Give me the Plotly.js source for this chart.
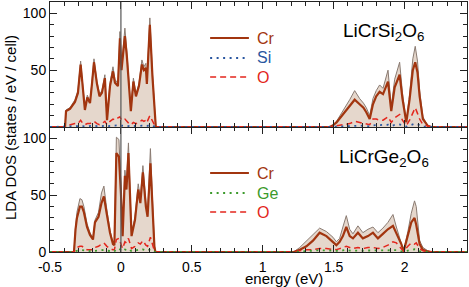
<!DOCTYPE html>
<html><head><meta charset="utf-8">
<script src="https://cdn.plot.ly/plotly-3.0.1.min.js"></script>
<style>html,body{margin:0;padding:0;background:#fff}#chart{width:469px;height:287px}</style>
</head><body><div id="chart"></div>
<script>
// ---- top panel: LiCrSi2O6 ----
const topEnergy = [-0.5,
 -0.394,-0.387,-0.359,-0.324,-0.303,-0.284,-0.268,-0.254,-0.237,-0.218,
 -0.204,-0.190,-0.169,-0.151,-0.134,-0.113,-0.098,-0.077,-0.056,-0.042,
 -0.021,-0.007,0.004,0.028,0.042,0.056,0.070,0.088,0.106,0.127,
 0.148,0.162,0.176,0.183,0.204,0.222,0.236,0.246,
 1.47,1.49,1.52,1.566,1.613,1.648,1.683,1.710,1.730,1.754,
 1.777,1.800,1.824,1.848,1.883,1.906,1.930,1.965,1.985,2.012,
 2.035,2.058,2.075,2.091,2.106,2.129,2.164,2.19,
 2.45];
const topTotal = [0,
 0,15,17,24,32,58,32,16,28,22, 40,60,40,29,32,46,7,39,53,42,
 38,84,53,87,66,42,15,43,29,38, 59,53,56,40,96,48,24,0,
 0,1,5,14,24,32,25,21,17,10, 25,32,37,34,50,18,42,57,30,5,
 28,60,71,58,32,9,1,0,
 0];
const topCr = [0,
 0,14,16,22,30,55,30,15,26,21, 38,57,38,27,30,43,6,36,49,39,
 36,78,50,80,62,40,14,40,27,36, 55,50,52,38,90,45,22,0,
 0,1,4,11,19,24,20,17,13,7, 20,27,31,29,40,14,35,46,25,4,
 24,50,57,48,27,7,1,0,
 0];
const topO = [0,
 0,1,2,3,3,6,3,2,3,3, 4,5,3,2,3,5,2,5,7,6,
 8,9,6,7,5,3,2,4,3,4, 6,5,6,4,10,5,2,0,
 0,0.3,1,2,3,5,4,3,3,2, 7,7,6,6,9,4,8,11,6,1,
 6,13,17,12,7,2,0.5,0,
 0];
const topSi = [0,
 0,0.5,0.6,0.8,0.8,1.2,0.8,0.5,0.8,0.7, 1,1.2,0.8,0.6,0.8,1.1,0.4,1,1.3,1.1,
 1.2,1.6,1.1,1.5,1.2,0.8,0.4,0.9,0.7,0.9, 1.2,1.1,1.2,0.9,1.8,1,0.5,0,
 0,0.1,0.3,0.6,1,1.4,1.2,1,0.9,0.6, 1.5,1.6,1.5,1.4,2,0.9,1.8,2.2,1.3,0.3,
 1.4,2.5,3,2.3,1.4,0.4,0.1,0,
 0];

// ---- bottom panel: LiCrGe2O6 ----
const botEnergy = [-0.5,
 -0.331,-0.320,-0.310,-0.289,-0.275,-0.261,-0.239,-0.218,-0.197,-0.183,
 -0.158,-0.137,-0.120,-0.099,-0.077,-0.056,-0.046,-0.032,-0.014,0.0,
 0.012,0.028,0.039,0.053,0.075,0.099,0.122,0.137,0.155,0.176,
 0.188,0.208,0.225,0.236,0.243,
 1.218,1.261,1.308,1.354,1.401,1.449,1.495,1.519,1.542,1.565,
 1.589,1.613,1.636,1.671,1.706,1.742,1.777,1.812,1.847,1.882,
 1.918,1.942,1.977,1.993,2.023,2.047,2.070,2.082,2.106,2.129,
 2.164,2.19,
 2.45];
const botTotal = [0,
 0,22,35,47,46,40,25,17,12,28, 35,52,58,37,19,8,7,101,99,58,
 16,72,60,96,16,31,60,47,76,44, 34,91,33,6,0,
 0,4,10,15,21,18,13,9,12,22, 32,20,16,23,17,20,22,17,21,26,
 33,22,9,1,18,34,45,40,10,4, 1,0,
 0];
const botCr = [0,
 0,20,30,40,40,35,22,15,11,26, 31,43,49,33,17,7,6,87,84,52,
 14,67,55,87,14,28,55,43,70,40, 31,78,30,5,0,
 0,2,5,10,17,14,9,6,9,14, 22,14,12,17,12,14,17,12,16,20,
 23,17,7,0.5,14,26,30,24,7,2, 0.5,0,
 0];
const botO = [0,
 0,2,4,5,5,4,2,2,2,4, 5,7,8,5,3,2,2,11,12,7,
 3,9,8,12,3,5,8,7,10,6, 5,13,5,1,0,
 0,1,2,2,3,3,2,2,3,4, 5,4,3,4,3,4,4,3,4,6,
 9,8,3,0.5,5,8,7,8,3,1, 0.3,0,
 0];
const botGe = [0,
 0,0.8,1.2,1.6,1.6,1.4,0.8,0.6,0.5,1, 1.2,1.6,1.8,1.2,0.7,0.4,0.4,3,2.8,1.8,
 0.6,2.2,1.9,2.8,0.6,1.1,1.8,1.5,2.3,1.4, 1.1,2.6,1,0.2,0,
 0,0.5,1,1.2,1.6,1.4,1,0.8,1,1.4, 1.8,1.3,1.1,1.4,1.1,1.3,1.4,1.1,1.3,1.6,
 2,1.6,0.6,0.1,1.2,2,2.4,2.2,0.8,0.3, 0.1,0,
 0];

const xTickVals = [-0.5,0,0.5,1,1.5,2];
const xTickText = ['-0.5','0','0.5','1','1.5','2'];
const yTickTop = [50,100];
const yTickBot = [0,50,100];
const fermiEnergy = 0;
const speciesTop = ['Cr','Si','O'];
const speciesBot = ['Cr','Ge','O'];
const compoundTop = 'LiCrSi<sub>2</sub>O<sub>6</sub>';
const compoundBot = 'LiCrGe<sub>2</sub>O<sub>6</sub>';

const C_TOT_LINE = '#8a7b72', C_FILL = '#e5d7cc', C_CR = '#a2350f', C_O = '#e3261c', C_SI = '#2a56a0', C_GE = '#3c9a2c';
const FONT = 'Liberation Sans, Arial, Helvetica, sans-serif';

function panel(E, tot, cr, o, el, elColor, xa, ya) {
  return [
    {x:E, y:tot, xaxis:xa, yaxis:ya, type:'scatter', mode:'lines', fill:'tozeroy', fillcolor:C_FILL,
     line:{color:C_TOT_LINE, width:1}, showlegend:false, hoverinfo:'skip'},
    {x:E, y:cr, xaxis:xa, yaxis:ya, type:'scatter', mode:'lines', line:{color:C_CR, width:2.2}, showlegend:false},
    {x:E, y:o, xaxis:xa, yaxis:ya, type:'scatter', mode:'lines', line:{color:C_O, width:1.5, dash:'6px,4px'}, showlegend:false},
    {x:E, y:el, xaxis:xa, yaxis:ya, type:'scatter', mode:'lines', line:{color:elColor, width:1.8, dash:'2px,4.5px'}, showlegend:false}
  ];
}
const data = [].concat(
  panel(topEnergy, topTotal, topCr, topO, topSi, C_SI, 'x2', 'y2'),
  panel(botEnergy, botTotal, botCr, botO, botGe, C_GE, 'x', 'y')
);

const xBase = {range:[-0.5,2.44], showline:true, linecolor:'#222', linewidth:1, mirror:'allticks',
  ticks:'inside', ticklen:7, tickcolor:'#222', tickmode:'array', tickvals:xTickVals, ticktext:xTickText,
  minor:{tickmode:'linear', tick0:0, dtick:0.1, ticks:'inside', ticklen:4, tickcolor:'#222'},
  showgrid:false, zeroline:false,
  tickfont:{family:FONT, size:14, color:'#000'}};
const yBase = {range:[0,110], showline:true, linecolor:'#222', linewidth:1, mirror:'allticks',
  ticks:'inside', ticklen:7, tickcolor:'#222', tickmode:'array',
  minor:{tickmode:'linear', tick0:0, dtick:10, ticks:'inside', ticklen:4, tickcolor:'#222'},
  showgrid:false, zeroline:false, tickfont:{family:FONT, size:14, color:'#000'}};

const shapes = [], annotations = [];
// Fermi-level reference lines drawn above the filled areas
shapes.push({type:'line', xref:'x2', yref:'y2 domain', x0:fermiEnergy, x1:fermiEnergy, y0:0, y1:1, layer:'above', line:{color:'#555', width:1.2}});
shapes.push({type:'line', xref:'x', yref:'y domain', x0:fermiEnergy, x1:fermiEnergy, y0:0, y1:1, layer:'above', line:{color:'#555', width:1.2}});
function legendBlock(names, colors, dashes, widths, xr, yr, ys) {
  names.forEach((n,i) => {
    shapes.push({type:'line', xref:xr, yref:yr, x0:0.384, x1:0.477, y0:ys[i], y1:ys[i],
      line:{color:colors[i], width:widths[i], dash:dashes[i]}});
    annotations.push({xref:xr, yref:yr, x:0.492, y:ys[i], xanchor:'left', yanchor:'middle', showarrow:false,
      text:n, font:{family:FONT, size:16, color:colors[i]}});
  });
}
legendBlock(speciesTop, [C_CR, C_SI, C_O], ['solid','2px,4.5px','6px,4px'], [2.2,1.8,1.5], 'x2 domain', 'y2 domain', [0.712,0.552,0.4]);
legendBlock(speciesBot, [C_CR, C_GE, C_O], ['solid','2px,4.5px','6px,4px'], [2.2,1.8,1.5], 'x domain', 'y domain', [0.632,0.472,0.32]);
annotations.push({xref:'x2 domain', yref:'y2 domain', x:0.80, y:0.76, xanchor:'center', yanchor:'middle', showarrow:false,
  text:compoundTop, font:{family:FONT, size:19, color:'#000'}});
annotations.push({xref:'x domain', yref:'y domain', x:0.80, y:0.752, xanchor:'center', yanchor:'middle', showarrow:false,
  text:compoundBot, font:{family:FONT, size:19, color:'#000'}});
annotations.push({xref:'paper', yref:'paper', x:-0.096, y:0.5, xanchor:'center', yanchor:'middle', showarrow:false,
  textangle:-90, text:'LDA DOS (states / eV / cell)', font:{family:FONT, size:15, color:'#000'}});
// x-axis title
annotations.push({xref:'paper', yref:'paper', x:0.56, y:-0.106, xanchor:'center', yanchor:'middle', showarrow:false,
  text:'energy (eV)', font:{family:FONT, size:15, color:'#000'}});

const layout = {
  width:469, height:287, margin:{l:50, r:2, t:2, b:35},
  paper_bgcolor:'#fff', plot_bgcolor:'#fff', showlegend:false,
  font:{family:FONT, color:'#000'},
  xaxis: Object.assign({}, xBase, {anchor:'y', domain:[0,1], ticklabelstandoff:2}),
  xaxis2: Object.assign({}, xBase, {anchor:'y2', domain:[0,1], showticklabels:false, matches:'x'}),
  yaxis: Object.assign({}, yBase, {anchor:'x', domain:[0,0.5], tickvals:yTickBot}),
  yaxis2: Object.assign({}, yBase, {anchor:'x2', domain:[0.5,1], tickvals:yTickTop}),
  shapes: shapes, annotations: annotations
};
Plotly.newPlot('chart', data, layout, {staticPlot:true, displayModeBar:false});
</script></body></html>
